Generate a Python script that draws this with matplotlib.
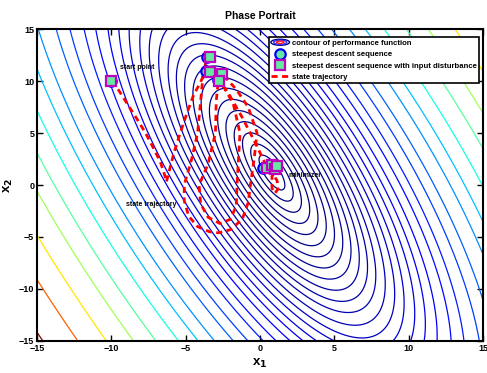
import numpy as np
import matplotlib
matplotlib.use('Agg')
import matplotlib.pyplot as plt
from matplotlib.lines import Line2D
from matplotlib.patches import Ellipse
from matplotlib.legend_handler import HandlerBase

plt.rcParams['font.family'] = ['Liberation Sans', 'DejaVu Sans']

# quadratic performance function F(x) = (x-c)' A (x-c)
A_mat = [[0.8605, 0.3275], [0.3275, 0.2314]]
x_min = [0.8, 1.2]
levels = [0.30, 0.81, 1.56, 2.56, 3.80, 5.29, 7.02, 9.0, 11.22, 13.69, 16.4,
          19.36, 23.04, 27.04, 31.36, 36.6, 42.25, 49.0, 57.8, 67.2, 80.1, 94.1,
          114.5, 134.6, 161.3, 196.0, 234.1, 285.6, 346.0, 428.5]

# steepest descent sequence (circles) and with input disturbance (squares)
sd_x = [-10.0, -3.58, -3.62, -2.80, 0.22]
sd_y = [10.0, 12.28, 10.96, 10.10, 1.60]
sdd_x = [-10.0, -3.40, -3.40, -2.53, -2.73, 0.45, 0.80, 1.00, 1.15]
sdd_y = [10.0, 12.30, 10.90, 10.70, 10.00, 1.60, 1.90, 1.50, 1.80]

# state trajectory
traj_x = [-10.0, -9.5, -8.95, -8.3, -7.7, -7.15, -6.7, -6.4, -6.3, -6.1, -5.8,
          -5.37, -4.92, -4.47, -4.0, -3.7, -3.55, -3.5, -3.65, -3.85, -4.0, -4.2,
          -4.6, -5.1, -5.1, -4.8, -4.2, -3.4, -2.8, -2.0, -1.2, -0.8, -0.65, -0.4,
          -0.2, -0.8, -1.6, -2.3, -2.6, -2.8, -2.95, -3.0, -3.5, -4.1, -4.0, -3.5,
          -2.7, -2.0, -1.6, -1.55, -1.35, -1.8, -2.5, -2.8, -2.2, -1.2, -0.3, 0.3,
          0.8, 1.15, 1.2, 1.0, 0.8, 0.8, 1.1, 0.9]
traj_y = [10.0, 9.1, 7.85, 6.4, 5.0, 3.5, 2.2, 0.9, 0.3, 1.4, 3.05,
          5.0, 6.9, 8.65, 9.9, 10.9, 11.8, 12.3, 11.8, 10.3, 8.0, 5.0,
          2.5, 0.0, -1.5, -3.0, -4.0, -4.5, -4.6, -4.3, -3.3, -1.7, 0.0, 2.5,
          5.0, 7.5, 9.2, 10.3, 10.8, 10.2, 8.0, 5.0, 2.0, 0.0, -1.8, -3.1,
          -3.7, -3.3, -2.0, 0.0, 5.0, 7.8, 9.6, 10.1, 9.0, 6.5, 4.0, 2.2,
          1.2, 0.4, -0.4, -0.8, -0.3, 0.8, 1.8, 1.5]


class HandlerRings(HandlerBase):
    def create_artists(self, legend, orig_handle, xdescent, ydescent,
                       width, height, fontsize, trans):
        cx = width / 2 - xdescent
        cy = height / 2 - ydescent
        out = []
        for k, c in enumerate(['#00008f', '#3030ff', '#ff2020']):
            out.append(Ellipse((cx, cy), width * (1.0 - 0.3 * k),
                               height * (1.1 - 0.35 * k), fill=False,
                               edgecolor=c, lw=1.0, transform=trans))
        return out


fig = plt.figure(figsize=(4.87, 3.73), dpi=100)
ax = fig.add_axes([0.076, 0.086, 0.916, 0.836])

g = np.linspace(-15, 15, 401)
X, Y = np.meshgrid(g, g)
A = np.array(A_mat)
dx = X - x_min[0]
dy = Y - x_min[1]
F = A[0, 0] * dx**2 + 2 * A[0, 1] * dx * dy + A[1, 1] * dy**2
ax.contour(X, Y, F, levels=levels, cmap='jet', linewidths=0.9)

ax.plot(traj_x, traj_y, 'r--', lw=2.0, dashes=(2.2, 1.6))
ax.plot(sd_x, sd_y, 'o', ms=7.5, mec='b', mfc='#66e8a0', mew=1.6)
ax.plot(sdd_x, sdd_y, 's', ms=6.5, mec='m', mfc='#66e8a0', mew=1.6)

ax.text(-9.4, 11.35, 'start point', fontsize=5, fontweight='bold', va='center')
ax.text(-9.0, -1.9, 'state trajectory', fontsize=5, fontweight='bold', va='center')
ax.text(1.9, 0.95, 'minimizer', fontsize=5, fontweight='bold', va='center')

ax.set_xlim(-15, 15)
ax.set_ylim(-15, 15)
ax.set_xticks([-15, -10, -5, 0, 5, 10, 15])
ax.set_yticks([-15, -10, -5, 0, 5, 10, 15])
ax.tick_params(direction='in', top=True, right=True, length=4, width=1,
               labelsize=6.5, pad=2)
for lab in ax.get_xticklabels() + ax.get_yticklabels():
    lab.set_fontweight('bold')
for sp in ax.spines.values():
    sp.set_linewidth(1.5)

ax.set_title('Phase Portrait', fontsize=7.5, fontweight='bold', pad=7)
ax.set_xlabel('x$_\\mathbf{1}$', fontsize=9.5, fontweight='bold', labelpad=3)
ax.set_ylabel('x$_\\mathbf{2}$', fontsize=9.5, fontweight='bold', labelpad=3)

rings = Line2D([], [])
h_sd = Line2D([], [], ls='none', marker='o', ms=7.5, mec='b', mfc='#66e8a0', mew=1.6)
h_sdd = Line2D([], [], ls='none', marker='s', ms=6.5, mec='m', mfc='#66e8a0', mew=1.6)
h_tr = Line2D([], [], color='r', ls='--', lw=2.0, dashes=(2.2, 1.6))
leg = ax.legend([rings, h_sd, h_sdd, h_tr],
                ['contour of performance function', 'steepest descent sequence',
                 'steepest descent sequence with input disturbance', 'state trajectory'],
                handler_map={rings: HandlerRings()},
                loc='upper right', bbox_to_anchor=(0.991, 0.974), borderaxespad=0,
                fancybox=False, framealpha=1, edgecolor='k',
                prop={'size': 5.6, 'weight': 'bold'}, handlelength=2.4,
                handletextpad=0.3, labelspacing=0.5, borderpad=0.3)
leg.get_frame().set_linewidth(1.2)

fig.savefig('out.png', dpi=100)
